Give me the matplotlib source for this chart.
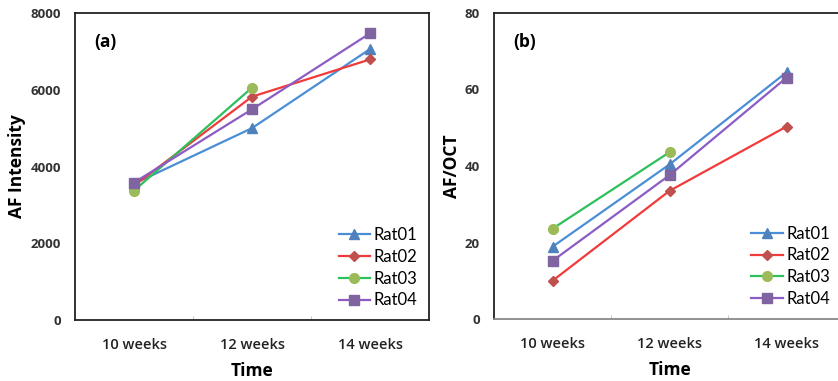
import matplotlib
matplotlib.use("Agg")
import matplotlib.pyplot as plt
from matplotlib.ticker import FixedLocator

plt.rcParams['font.family'] = ['Lato', 'DejaVu Sans']
BOLD = ['Open Sans', 'DejaVu Sans']

categories = ["10 weeks", "12 weeks", "14 weeks"]
series_names = ["Rat01", "Rat02", "Rat03", "Rat04"]

af_rat01 = [3550, 5000, 7060]
af_rat02 = [3500, 5820, 6790]
af_rat03 = [3370, 6055]
af_rat04 = [3580, 5490, 7470]

oct_rat01 = [18.9, 40.4, 64.5]
oct_rat02 = [10.0, 33.5, 50.3]
oct_rat03 = [23.6, 43.6]
oct_rat04 = [15.2, 37.6, 63.1]

line_colors = ["#4A8FD6", "#F23A3A", "#2EC05C", "#8C5CC4"]
marker_colors = ["#4F81BD", "#C0504D", "#9BBB59", "#8064A2"]
markers = ["^", "D", "o", "s"]
msizes = [7, 5, 7, 7]

fig = plt.figure(figsize=(8.38, 3.81), dpi=100)
ax_a = fig.add_axes([75/838, 61/381, 354/838, 307/381])
ax_b = fig.add_axes([494/838, 62/381, 351/838, 306/381])

def draw(ax, data, ylim, yticks, ylabel, panel):
    for i, vals in enumerate(data):
        x = [k + 0.5 for k in range(len(vals))]
        ax.plot(x, vals, color=line_colors[i], lw=1.6, marker=markers[i],
                ms=msizes[i], mfc=marker_colors[i], mec=marker_colors[i],
                label=series_names[i])
    ax.set_xlim(0, 3)
    ax.set_ylim(*ylim)
    ax.set_yticks(yticks)
    ax.set_yticklabels([str(t) for t in yticks], fontsize=9.5, fontweight='bold',
                       color='#333333', family=BOLD)
    ax.set_xticks([0.5, 1.5, 2.5])
    ax.set_xticklabels(categories, fontsize=10.5, fontweight='semibold',
                       color='#222222', family=BOLD)
    ax.tick_params(axis='both', length=0, pad=10)
    ax.tick_params(axis='x', pad=13)
    ax.xaxis.set_minor_locator(FixedLocator([1, 2]))
    ax.tick_params(axis='x', which='minor', length=3, direction='in', color='#bbbbbb')
    ax.set_xlabel("Time", fontsize=12.5, fontweight='bold', labelpad=7, family=BOLD)
    ax.set_ylabel(ylabel, fontsize=12.5, fontweight='bold', labelpad=3, family=BOLD)
    for s in ax.spines.values():
        s.set_linewidth(1.3)
        s.set_color('#222222')
    ax.text(0.055, 0.905, panel, transform=ax.transAxes, fontsize=12.5,
            fontweight='bold', ha='left', va='center', family=BOLD)

draw(ax_a, [af_rat01, af_rat02, af_rat03, af_rat04], (0, 8000),
     [0, 2000, 4000, 6000, 8000], "AF Intensity", "(a)")
draw(ax_b, [oct_rat01, oct_rat02, oct_rat03, oct_rat04], (0, 80),
     [0, 20, 40, 60, 80], "AF/OCT", "(b)")
ax_b.spines['bottom'].set_color('#888888')
ax_a.legend(loc='lower right', frameon=False, fontsize=12, handlelength=1.9,
            handletextpad=0.2, labelspacing=0.35, borderaxespad=0.3)
ax_b.legend(loc='lower left', bbox_to_anchor=(0.69, -0.01), frameon=False, fontsize=12,
            handlelength=1.9, handletextpad=0.2, labelspacing=0.35)

fig.savefig("out.png", dpi=100)
